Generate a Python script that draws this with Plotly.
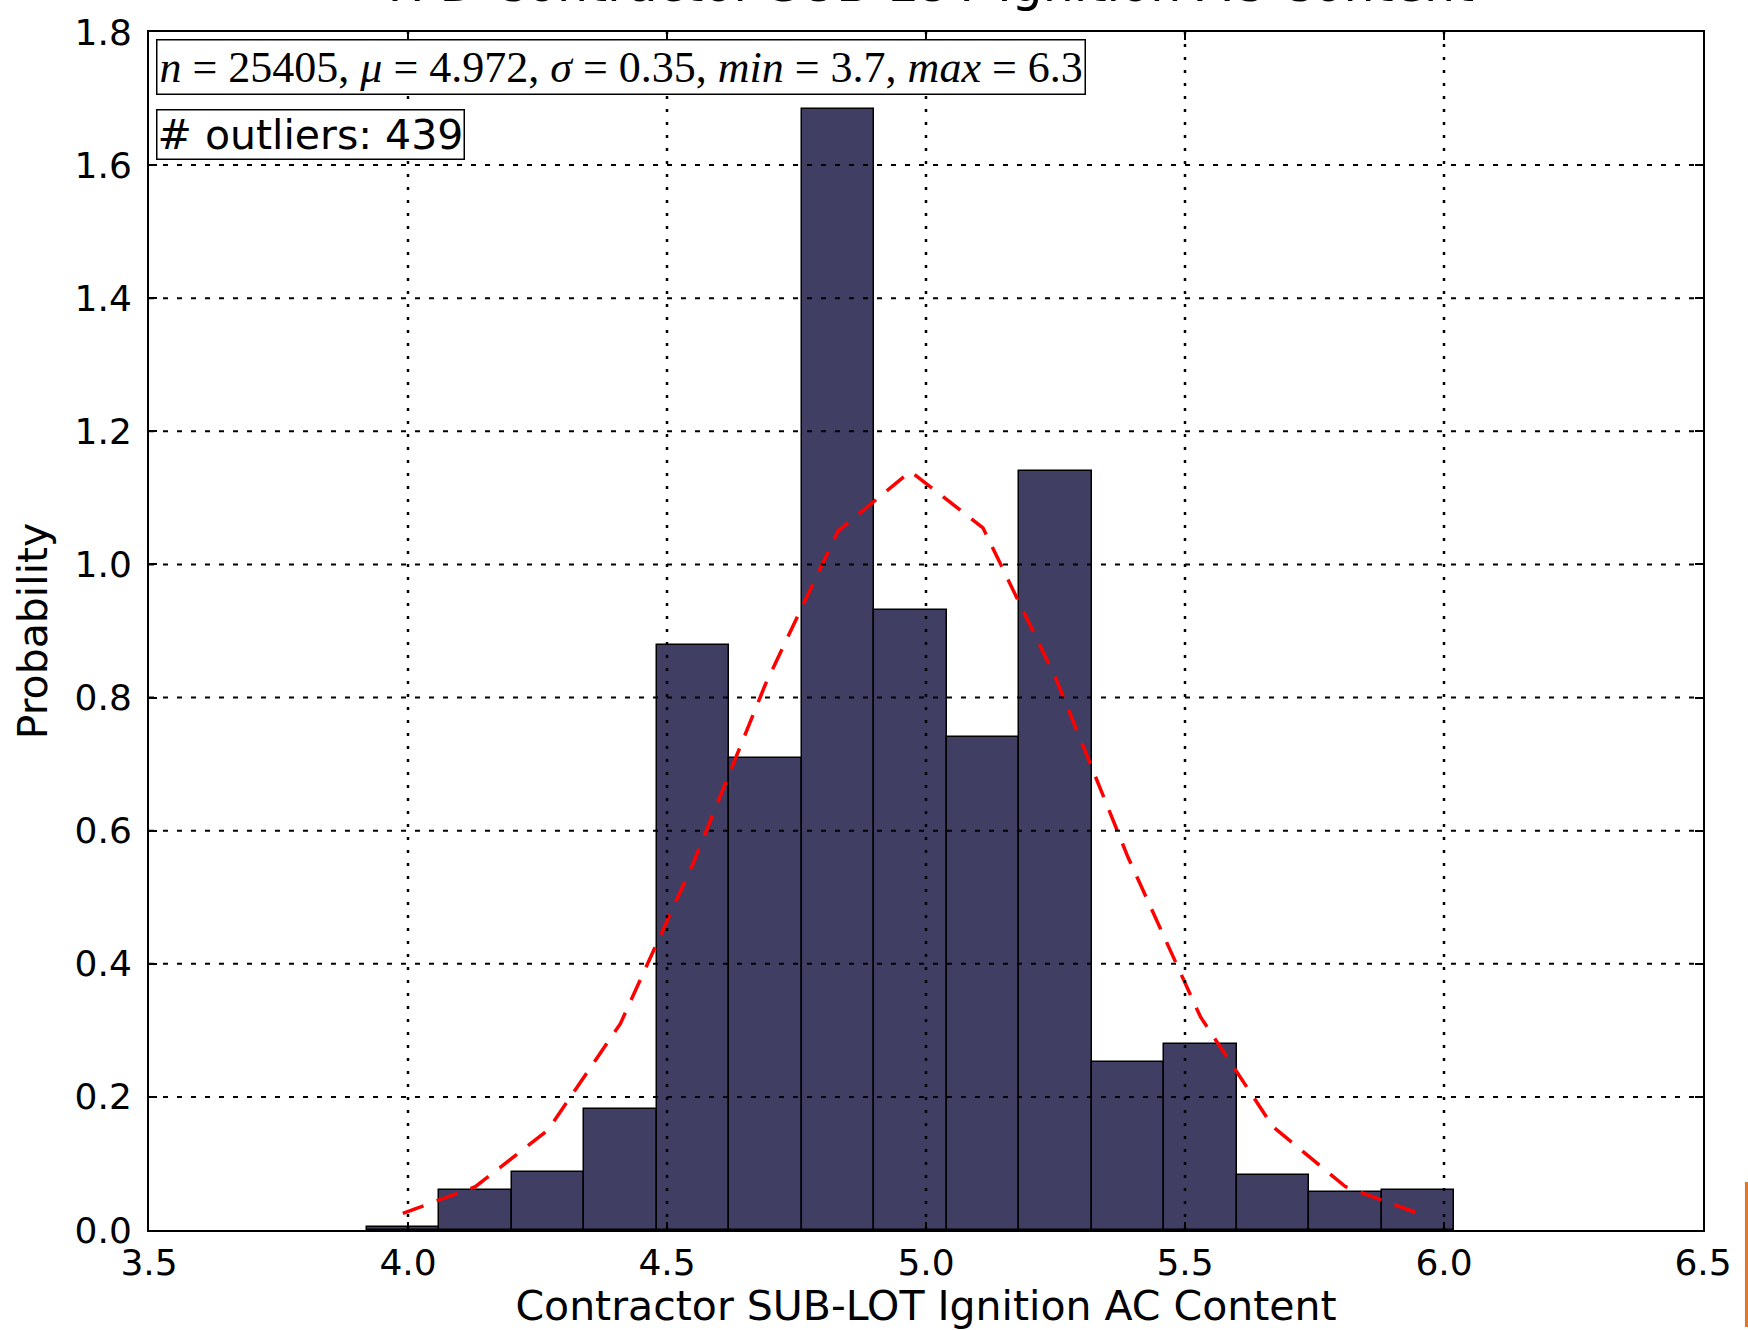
import plotly.graph_objects as go

# ---- data ----
bin_edges = [3.92, 4.06, 4.20, 4.34, 4.48, 4.62, 4.76, 4.90, 5.04, 5.18,
             5.32, 5.46, 5.60, 5.74, 5.88, 6.02]
bar_heights = [0.005, 0.060, 0.087, 0.182, 0.879, 0.709, 1.685, 0.931,
               0.741, 1.141, 0.252, 0.279, 0.083, 0.057, 0.060]
curve_values = [0.025, 0.065, 0.150, 0.310, 0.550, 0.820, 1.050, 1.140,
                1.055, 0.830, 0.560, 0.320, 0.155, 0.065, 0.025]
x_ticks = [3.5, 4.0, 4.5, 5.0, 5.5, 6.0, 6.5]
y_ticks = [0.0, 0.2, 0.4, 0.6, 0.8, 1.0, 1.2, 1.4, 1.6, 1.8]
title_text = "TPD Contractor SUB-LOT Ignition AC Content"
x_label = "Contractor SUB-LOT Ignition AC Content"
y_label = "Probability"
stats_text = ("<i>n</i> = 25405, <i>μ</i> = 4.972, <i>σ</i> = 0.35, "
              "<i>min</i> = 3.7, <i>max</i> = 6.3")
outlier_text = "# outliers: 439"

centers = [(bin_edges[i] + bin_edges[i + 1]) / 2 for i in range(len(bar_heights))]
widths = [bin_edges[i + 1] - bin_edges[i] for i in range(len(bar_heights))]

FONT = "DejaVu Sans"

fig = go.Figure()
fig.add_trace(go.Bar(
    x=centers, y=bar_heights, width=widths,
    marker=dict(color="#403e63", line=dict(color="black", width=1.5)),
    showlegend=False,
))
fig.add_trace(go.Scatter(
    x=centers, y=curve_values, mode="lines",
    line=dict(color="#ff0000", width=3.5, dash="22px,14px"),
    showlegend=False,
))

# dotted grid drawn above the bars (as in the reference)
shapes = []
for xv in x_ticks[1:-1]:
    shapes.append(dict(type="line", xref="x", yref="paper", x0=xv, x1=xv, y0=0, y1=1,
                       line=dict(color="black", width=2.5, dash="3px,10px"), layer="above"))
for yv in y_ticks[1:-1]:
    shapes.append(dict(type="line", xref="paper", yref="y", x0=0, x1=1, y0=yv, y1=yv,
                       line=dict(color="black", width=2, dash="5px,9px"), layer="above"))
# orange artefact at right edge of the screenshot
shapes.append(dict(type="rect", xref="paper", yref="paper", x0=1.027, x1=1.03,
                   y0=-0.081, y1=0.04, fillcolor="#e0762a", line=dict(width=0), layer="above"))

axis_common = dict(
    showline=True, linecolor="black", linewidth=2, mirror="allticks",
    ticks="inside", ticklen=8, tickwidth=1.5, tickcolor="black",
    showgrid=False, zeroline=False,
    tickfont=dict(family=FONT, size=36, color="black"),
)

fig.update_layout(
    width=1748, height=1330,
    margin=dict(l=149, r=45, t=30, b=97),
    paper_bgcolor="white", plot_bgcolor="white",
    bargap=0,
    shapes=shapes,
    xaxis=dict(range=[3.5, 6.5], tickvals=x_ticks, ticktext=[f"{v:.1f}" for v in x_ticks],
               title=dict(text=x_label, font=dict(family=FONT, size=41, color="black"),
                          standoff=6),
               ticklabelstandoff=0, **axis_common),
    yaxis=dict(range=[0, 1.8], tickvals=y_ticks, ticktext=[f"{v:.1f}" for v in y_ticks],
               title=dict(text=y_label, font=dict(family=FONT, size=41, color="black"),
                          standoff=14),
               ticklabelstandoff=8, **axis_common),
    annotations=[
        dict(text=title_text, xref="paper", yref="paper", x=0.5, y=1.0145,
             xanchor="center", yanchor="bottom", showarrow=False,
             font=dict(family=FONT, size=49, color="black")),
        dict(text=stats_text, xref="paper", yref="paper", x=0.0045, y=0.9945,
             xanchor="left", yanchor="top", showarrow=False, align="left",
             bgcolor="white", bordercolor="black", borderwidth=1.5, borderpad=2,
             font=dict(family="Liberation Serif", size=44, color="black")),
        dict(text=outlier_text, xref="paper", yref="paper", x=0.0045, y=0.936,
             xanchor="left", yanchor="top", showarrow=False, align="left",
             bgcolor="white", bordercolor="black", borderwidth=1.5, borderpad=0,
             font=dict(family=FONT, size=41, color="black")),
    ],
)

fig.write_html("out.html")
